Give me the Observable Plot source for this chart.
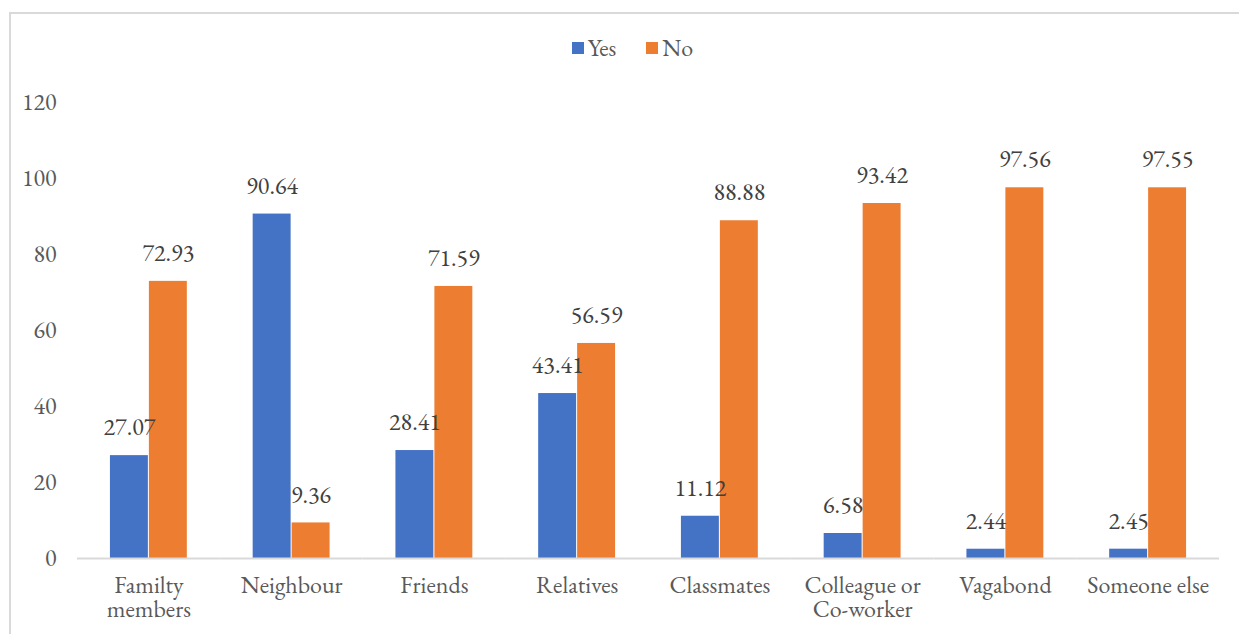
<!DOCTYPE html>
<html>
<head>
<meta charset="utf-8">
<script src="https://cdn.jsdelivr.net/npm/d3@7"></script>
<script src="https://cdn.jsdelivr.net/npm/@observablehq/plot@0.6"></script>
<style>
  html, body { margin: 0; padding: 0; width: 1239px; height: 634px; overflow: hidden; background: #fff; }
  #frame { position: absolute; left: 9px; top: 12px; width: 1260px; height: 660px; border: 2px solid #d9d9d9; box-sizing: border-box; }
  #legend { position: absolute; left: 0; top: 32px; width: 1239px; display: flex; justify-content: center; gap: 30px;
            font-size: 24px; color: #595959; padding-left: 26px; box-sizing: border-box; }
  .item { display: flex; align-items: center; gap: 4px; }
  .sw { width: 12px; height: 12px; display: inline-block; }
  #chart { position: absolute; left: 0; top: 0; }
</style>
</head>
<body>
<div id="frame"></div>
<div id="legend" style="font-family: 'EB Garamond', 'Liberation Serif', serif;"></div>
<div id="chart"></div>
<script>
const categories = ["Familty members", "Neighbour", "Friends", "Relatives", "Classmates", "Colleague or Co-worker", "Vagabond", "Someone else"];
const tickLabels = ["Familty\nmembers", "Neighbour", "Friends", "Relatives", "Classmates", "Colleague or\nCo-worker", "Vagabond", "Someone else"];
const series = ["Yes", "No"];
const yesValues = [27.07, 90.64, 28.41, 43.41, 11.12, 6.58, 2.44, 2.45];
const noValues = [72.93, 9.36, 71.59, 56.59, 88.88, 93.42, 97.56, 97.55];
const yTicks = [0, 20, 40, 60, 80, 100, 120];
const colors = ["#4472C4", "#ED7D31"];

const FONT = "'EB Garamond', 'Liberation Serif', serif";

const data = [];
categories.forEach((c, i) => {
  data.push({category: c, series: "Yes", value: yesValues[i]});
  data.push({category: c, series: "No", value: noValues[i]});
});

const legend = document.getElementById("legend");
series.forEach((s, i) => {
  const it = document.createElement("div");
  it.className = "item";
  it.innerHTML = `<span class="sw" style="background:${colors[i]}"></span><span style="font-family:${FONT}">${s}</span>`;
  legend.appendChild(it);
});

const chart = Plot.plot({
  width: 1239,
  height: 634,
  marginTop: 102,
  marginBottom: 76,
  marginLeft: 77,
  marginRight: 20,
  style: {fontFamily: FONT, fontSize: "24px", color: "#595959", background: "transparent"},
  fx: {domain: categories, padding: 0, round: false, label: null},
  x: {domain: series, paddingInner: 0.026, paddingOuter: 0.845, round: false, axis: null},
  y: {domain: [0, 120], label: null},
  color: {domain: series, range: colors},
  marks: [
    Plot.axisY({ticks: yTicks, tickSize: 0, tickPadding: 21, label: null, fontSize: 24, fill: "#595959", fontFamily: FONT}),
    Plot.axisFx({anchor: "bottom", tickSize: 0, tickPadding: 17, label: null, fontSize: 24, fill: "#595959", fontFamily: FONT,
      tickFormat: d => tickLabels[categories.indexOf(d)], lineAnchor: "top", lineHeight: 1.0}),
    Plot.barY(data, {fx: "category", x: "series", y: "value", fill: "series"}),
    Plot.ruleY([0], {stroke: "#d9d9d9", strokeWidth: 2}),
    Plot.text(data, {fx: "category", x: "series", y: "value", text: d => d.value.toFixed(2), dy: -28, fontSize: 24, fill: "#404040", fontFamily: FONT})
  ]
});
document.getElementById("chart").appendChild(chart);
</script>
</body>
</html>
